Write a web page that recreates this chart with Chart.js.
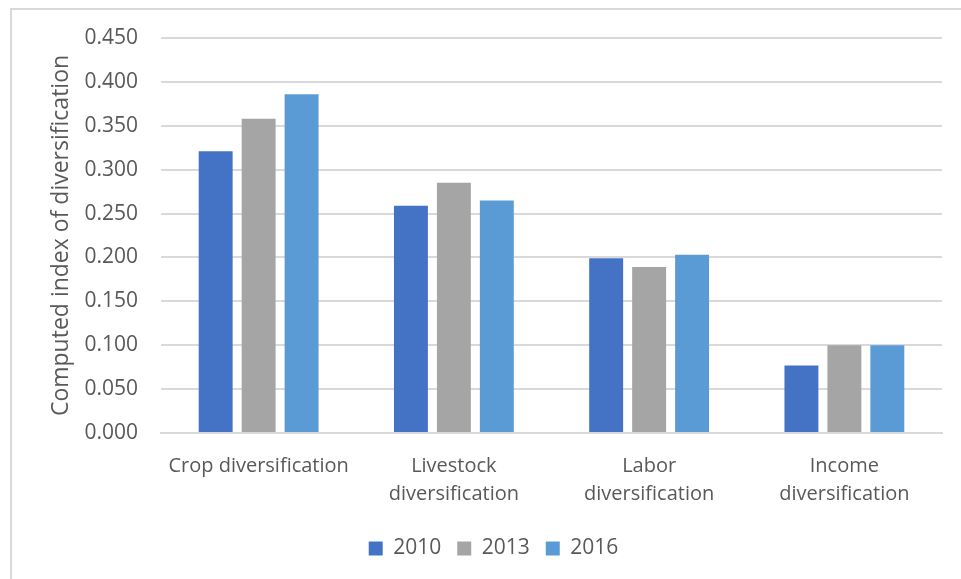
<!DOCTYPE html>
<html>
<head>
<meta charset="utf-8">
<script src="https://cdn.jsdelivr.net/npm/chart.js@4/dist/chart.umd.min.js"></script>
<style>
  html, body { margin: 0; padding: 0; background: #fff; }
  #wrap { position: relative; width: 961px; height: 579px; }
  #frame { position: absolute; left: 10px; top: 8px; right: 0; bottom: 0;
           border-left: 2px solid #d9d9d9; border-top: 2px solid #d9d9d9; }
  canvas { position: absolute; left: 0; top: 0; }
</style>
</head>
<body>
<div id="wrap">
  <div id="frame"></div>
  <canvas id="barChart" width="961" height="579"></canvas>
</div>
<script>
// categories and series
const categories = [
    'Crop diversification',
    ['Livestock', 'diversification'],
    ['Labor', 'diversification'],
    ['Income', 'diversification']
];
const years = ['2010', '2013', '2016'];
const values2010 = [0.321, 0.259, 0.199, 0.077];
const values2013 = [0.358, 0.285, 0.189, 0.100];
const values2016 = [0.386, 0.265, 0.203, 0.100];
const colors = ['#4472C4', '#A5A5A5', '#5B9BD5'];

const font = "'Open Sans', 'Liberation Sans', sans-serif";
const textColor = '#595959';

const ctx = document.getElementById('barChart');
new Chart(ctx, {
    type: 'bar',
    data: {
        labels: categories,
        datasets: [values2010, values2013, values2016].map((vals, i) => ({
            label: years[i],
            data: vals,
            backgroundColor: colors[i],
            categoryPercentage: 0.66,
            barPercentage: 0.79
        }))
    },
    options: {
        responsive: false,
        animation: false,
        layout: { padding: { left: 45, right: 19, top: 38, bottom: 10 } },
        plugins: {
            tooltip: { enabled: false },
            legend: {
                position: 'bottom',
                labels: {
                    color: textColor,
                    font: { family: font, size: 21 },
                    boxWidth: 14,
                    boxHeight: 14,
                    padding: 16
                }
            }
        },
        scales: {
            x: {
                grid: { display: false },
                border: { color: '#d9d9d9', width: 2 },
                ticks: {
                    color: textColor,
                    font: { family: font, size: 20, lineHeight: 1.4 },
                    maxRotation: 0,
                    autoSkip: false,
                    padding: 11
                },
                afterFit: s => { s.height = 89; }
            },
            y: {
                min: 0,
                max: 0.45,
                title: {
                    display: true,
                    text: 'Computed index of diversification',
                    color: textColor,
                    font: { family: font, size: 23 },
                    padding: 3
                },
                grid: { color: '#d9d9d9', lineWidth: 2, drawTicks: false },
                border: { display: false },
                ticks: {
                    stepSize: 0.05,
                    color: textColor,
                    font: { family: font, size: 21 },
                    padding: 23,
                    callback: v => v.toFixed(3)
                },
                afterFit: s => { s.width = 116; }
            }
        }
    }
});
</script>
</body>
</html>
